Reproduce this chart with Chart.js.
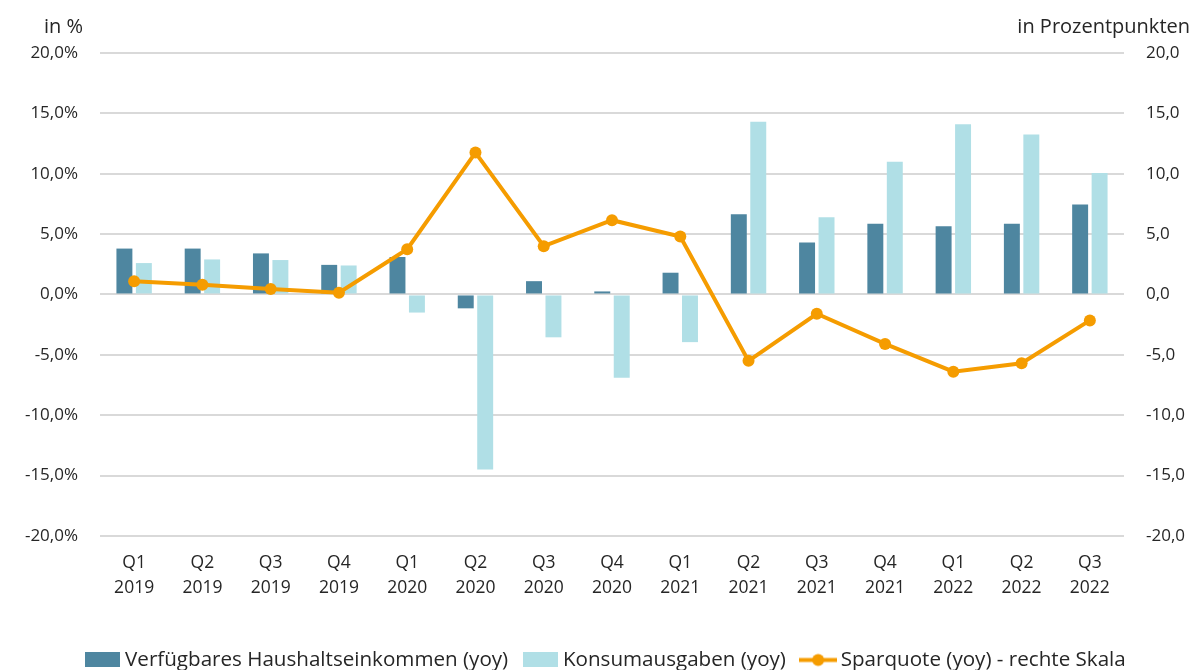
<!DOCTYPE html>
<html>
<head>
<meta charset="utf-8">
<script src="https://cdn.jsdelivr.net/npm/chart.js@4.4.1/dist/chart.umd.min.js"></script>
<style>
  html,body{margin:0;padding:0;background:#fff;}
  #wrap{width:1202px;height:670px;position:relative;}
</style>
</head>
<body>
<div id="wrap"><canvas id="c" width="1202" height="670"></canvas></div>
<script>
const quarters = ['Q1','Q2','Q3','Q4','Q1','Q2','Q3','Q4','Q1','Q2','Q3','Q4','Q1','Q2','Q3'];
const years = ['2019','2019','2019','2019','2020','2020','2020','2020','2021','2021','2021','2021','2022','2022','2022'];
const einkommen = [3.8, 3.8, 3.4, 2.45, 3.1, -1.15, 1.1, 0.25, 1.8, 6.65, 4.3, 5.85, 5.65, 5.85, 7.45];
const konsum = [2.6, 2.9, 2.85, 2.4, -1.5, -14.5, -3.55, -6.9, -3.95, 14.3, 6.4, 11.0, 14.1, 13.25, 10.05];
const sparquote = [1.1, 0.8, 0.45, 0.15, 3.75, 11.75, 4.0, 6.15, 4.8, -5.5, -1.6, -4.1, -6.4, -5.7, -2.15];
const leftTicks = [-20, -15, -10, -5, 0, 5, 10, 15, 20];

const C_DARK = '#4e86a0';
const C_LIGHT = '#b0dfe6';
const C_ORANGE = '#f59c00';
const FONT = "'Open Sans', 'Noto Sans', sans-serif";
const TXT = '#262626';

const labels = quarters.map((q, i) => [q, years[i]]);

function boxCanvas(color) {
  const c = document.createElement('canvas');
  c.width = 35; c.height = 15;
  const x = c.getContext('2d');
  x.fillStyle = color; x.fillRect(0, 0, 35, 15);
  return c;
}
function lineCanvas(color) {
  const c = document.createElement('canvas');
  c.width = 38; c.height = 15;
  const x = c.getContext('2d');
  x.strokeStyle = color; x.lineWidth = 4;
  x.beginPath(); x.moveTo(0, 7.5); x.lineTo(38, 7.5); x.stroke();
  x.fillStyle = color; x.beginPath(); x.arc(19, 7.5, 6, 0, Math.PI * 2); x.fill();
  return c;
}

const fmt = (v, pct) => v.toFixed(1).replace('.', ',') + (pct ? '%' : '');

const titles = {
  id: 'axisTitles',
  afterDraw(chart) {
    const ctx = chart.ctx;
    ctx.save();
    ctx.font = "20px " + FONT;
    ctx.fillStyle = TXT;
    ctx.textBaseline = 'alphabetic';
    ctx.textAlign = 'right';
    ctx.fillText('in %', 83, 33);
    ctx.fillText('in Prozentpunkten', 1190, 33);
    ctx.restore();
  }
};

new Chart(document.getElementById('c'), {
  data: {
    labels: labels,
    datasets: [
      {
        type: 'bar', label: 'Verfügbares Haushaltseinkommen (yoy)', data: einkommen,
        backgroundColor: C_DARK, yAxisID: 'y', order: 2,
        barPercentage: 0.82, categoryPercentage: 0.57
      },
      {
        type: 'bar', label: 'Konsumausgaben (yoy)', data: konsum,
        backgroundColor: C_LIGHT, yAxisID: 'y', order: 2,
        barPercentage: 0.82, categoryPercentage: 0.57
      },
      {
        type: 'line', label: 'Sparquote (yoy) - rechte Skala', data: sparquote,
        borderColor: C_ORANGE, backgroundColor: C_ORANGE, borderWidth: 4,
        pointRadius: 6, pointHoverRadius: 6, pointBackgroundColor: C_ORANGE,
        pointBorderWidth: 0, tension: 0, yAxisID: 'y2', order: 1
      }
    ]
  },
  options: {
    responsive: false,
    animation: false,
    devicePixelRatio: 1,
    layout: { padding: { top: 53, left: 14, right: 0, bottom: -10.25 } },
    plugins: {
      tooltip: { enabled: false },
      legend: {
        position: 'bottom',
        labels: {
          font: { family: FONT, size: 20.6 },
          color: TXT,
          usePointStyle: true,
          pointStyleWidth: 24.5,
          boxHeight: 15,
          padding: 20,
          generateLabels(chart) {
            const ds = chart.data.datasets;
            return [
              { text: ds[0].label, pointStyle: boxCanvas(C_DARK), fillStyle: C_DARK, strokeStyle: C_DARK, lineWidth: 0, datasetIndex: 0, fontColor: TXT },
              { text: ds[1].label, pointStyle: boxCanvas(C_LIGHT), fillStyle: C_LIGHT, strokeStyle: C_LIGHT, lineWidth: 0, datasetIndex: 1, fontColor: TXT },
              { text: ds[2].label, pointStyle: lineCanvas(C_ORANGE), fillStyle: C_ORANGE, strokeStyle: C_ORANGE, lineWidth: 0, datasetIndex: 2, fontColor: TXT }
            ];
          }
        }
      }
    },
    scales: {
      x: {
        offset: true,
        grid: { display: false, drawTicks: false },
        border: { display: false },
        afterFit(scale) { scale.height = 93.75; },
        ticks: {
          font: { family: FONT, size: 17.5, lineHeight: 25 / 17.5 },
          color: TXT, padding: 14.5, maxRotation: 0, autoSkip: false
        }
      },
      y: {
        position: 'left',
        min: -20, max: 20,
        afterBuildTicks(scale) { scale.ticks = leftTicks.map(v => ({ value: v })); },
        afterFit(scale) { scale.width = 86; },
        grid: { color: '#d9d9d9', lineWidth: 2, drawTicks: false },
        border: { display: false },
        ticks: {
          font: { family: FONT, size: 17 }, color: TXT, padding: 22,
          callback: (v) => fmt(v, true)
        }
      },
      y2: {
        position: 'right',
        min: -20, max: 20,
        afterBuildTicks(scale) { scale.ticks = leftTicks.map(v => ({ value: v })); },
        afterFit(scale) { scale.width = 78; },
        grid: { display: false, drawTicks: false },
        border: { display: false },
        ticks: {
          font: { family: FONT, size: 17 }, color: TXT, padding: 22,
          callback: (v) => fmt(v, false)
        }
      }
    }
  },
  plugins: [titles]
});
</script>
</body>
</html>
